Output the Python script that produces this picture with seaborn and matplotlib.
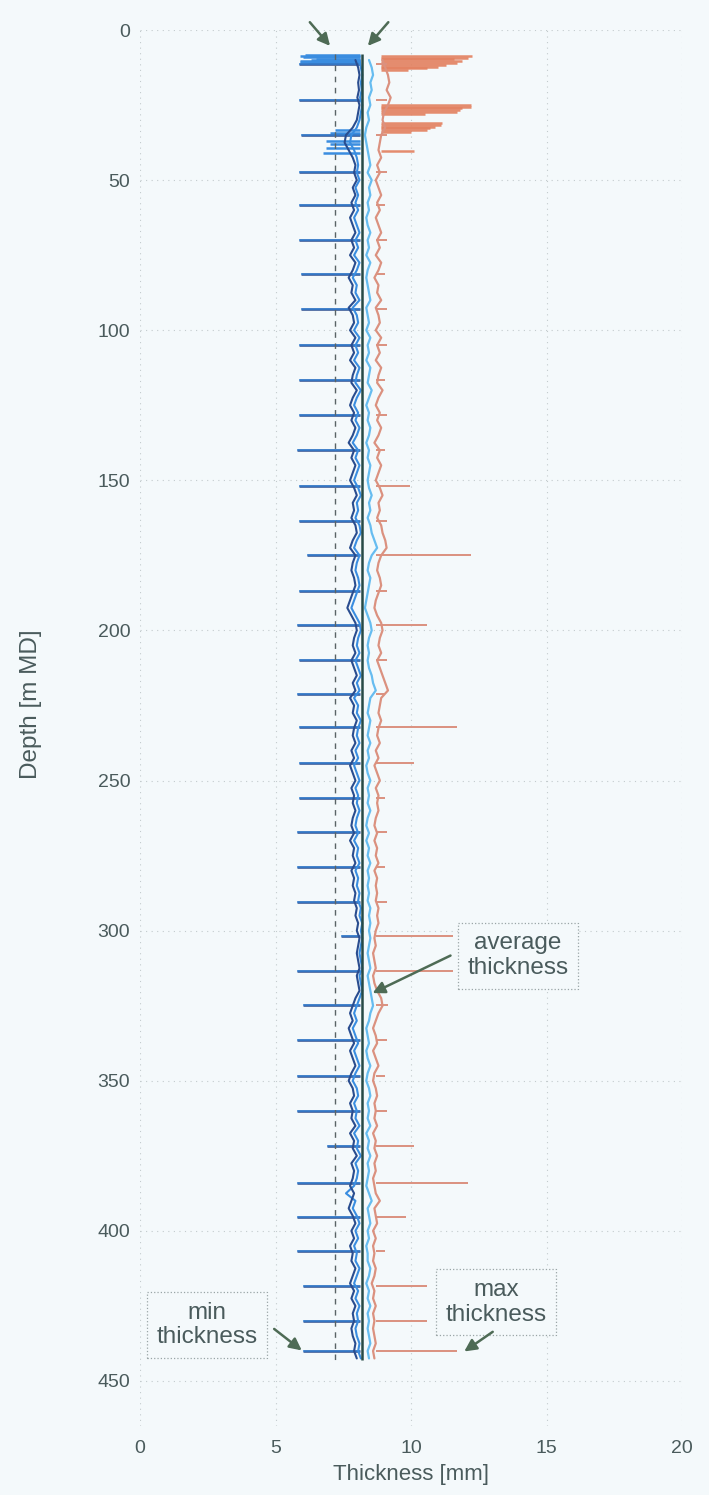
import numpy as np
import matplotlib
matplotlib.use("Agg")
import matplotlib.pyplot as plt
import seaborn as sns

# logging depth of the thickness samples (m MD), one every 2.5 m
depth = np.arange(10.0, 443.0, 2.5)

min_dark = [7.95, 8.05, 8.10, 8.05, 8.08, 8.02, 8.10, 8.05, 8.00, 7.85,
            7.60, 7.55, 7.70, 7.85, 7.95, 7.90, 8.00, 7.85, 7.95, 7.80,
            7.90, 7.75, 7.85, 7.95, 7.80, 7.90, 7.75, 7.95, 7.85, 7.70,
            7.85, 7.80, 7.95, 7.70, 7.85, 7.90, 7.75, 7.95, 7.80, 7.90,
            7.75, 7.95, 7.85, 7.80, 8.00, 7.85, 7.75, 7.90, 7.80, 7.95,
            7.85, 7.70, 7.90, 7.80, 7.95, 7.85, 7.75, 7.90, 8.00, 7.85,
            7.90, 7.80, 7.95, 8.00, 7.85, 7.75, 7.95, 7.85, 7.80, 7.90,
            7.95, 7.85, 7.75, 7.65, 7.80, 7.95, 8.00, 7.90, 7.85, 7.95,
            7.80, 7.90, 8.00, 7.85, 7.95, 7.75, 7.90, 7.85, 8.00, 7.90,
            7.85, 7.95, 7.80, 7.90, 7.75, 7.85, 7.95, 7.80, 7.90, 7.85,
            7.95, 7.85, 7.80, 7.90, 7.75, 7.90, 7.85, 7.95, 7.80, 7.90,
            7.85, 7.95, 7.90, 8.00, 7.95, 8.05, 8.00, 8.10, 8.05, 8.00,
            8.05, 8.10, 8.00, 8.05, 8.10, 7.95, 7.85, 7.75, 7.85, 7.70,
            7.80, 7.90, 7.75, 7.85, 7.95, 7.80, 7.70, 7.85, 7.90, 7.75,
            7.85, 7.80, 7.95, 7.75, 7.90, 7.85, 8.00, 7.80, 7.90, 7.85,
            7.75, 7.90, 7.80, 7.70, 7.85, 7.95, 7.80, 7.90, 7.75, 7.85,
            7.80, 7.95, 7.85, 7.75, 7.90, 7.80, 7.95, 7.85, 7.90, 7.80,
            7.85, 7.95, 7.90, 8.00]

min_blue = [8.10, 8.15, 8.20, 8.15, 8.18, 8.12, 8.20, 8.15, 8.10, 8.00,
            7.80, 7.75, 7.90, 8.00, 8.05, 8.00, 8.10, 7.95, 8.05, 7.95,
            8.05, 7.90, 8.00, 8.10, 7.95, 8.05, 7.90, 8.10, 8.00, 7.85,
            8.00, 7.95, 8.10, 7.85, 8.00, 8.05, 7.90, 8.10, 7.95, 8.05,
            7.90, 8.10, 8.00, 7.95, 8.15, 8.00, 7.90, 8.05, 7.95, 8.10,
            8.00, 7.85, 8.05, 7.95, 8.10, 8.00, 7.90, 8.05, 8.15, 8.00,
            8.05, 7.95, 8.10, 8.15, 8.00, 7.90, 8.10, 8.00, 7.95, 8.05,
            8.10, 8.00, 7.90, 7.80, 7.95, 8.10, 8.15, 8.05, 8.00, 8.10,
            7.95, 8.05, 8.15, 8.00, 8.10, 7.90, 8.05, 8.00, 8.15, 8.05,
            8.00, 8.10, 7.95, 8.05, 7.90, 8.00, 8.10, 7.95, 8.05, 8.00,
            8.10, 8.00, 7.95, 8.05, 7.90, 8.05, 8.00, 8.10, 7.95, 8.05,
            8.00, 8.10, 8.05, 8.15, 8.10, 8.20, 8.15, 8.20, 8.15, 8.10,
            8.15, 8.20, 8.10, 8.15, 8.20, 8.10, 8.00, 7.90, 8.00, 7.85,
            7.95, 8.05, 7.90, 8.00, 8.10, 7.95, 7.85, 8.00, 8.05, 7.90,
            8.00, 7.95, 8.10, 7.90, 8.05, 8.00, 8.15, 7.95, 8.05, 8.00,
            7.90, 7.60, 7.95, 7.85, 8.00, 8.10, 7.95, 8.05, 7.90, 8.00,
            7.95, 8.10, 8.00, 7.90, 8.05, 7.95, 8.10, 8.00, 8.05, 7.95,
            8.00, 8.10, 8.05, 8.15]

avg_thk = [8.45, 8.55, 8.60, 8.50, 8.55, 8.45, 8.50, 8.40, 8.45, 8.35,
           8.30, 8.35, 8.40, 8.45, 8.50, 8.40, 8.55, 8.45, 8.50, 8.40,
           8.45, 8.35, 8.40, 8.50, 8.40, 8.45, 8.35, 8.50, 8.40, 8.35,
           8.40, 8.45, 8.50, 8.35, 8.40, 8.45, 8.35, 8.50, 8.40, 8.45,
           8.35, 8.50, 8.45, 8.40, 8.55, 8.45, 8.35, 8.45, 8.40, 8.50,
           8.45, 8.35, 8.45, 8.40, 8.50, 8.45, 8.40, 8.45, 8.55, 8.45,
           8.50, 8.40, 8.50, 8.55, 8.65, 8.75, 8.55, 8.45, 8.40, 8.50,
           8.45, 8.40, 8.35, 8.30, 8.40, 8.50, 8.55, 8.45, 8.40, 8.45,
           8.40, 8.45, 8.55, 8.60, 8.70, 8.50, 8.45, 8.40, 8.50, 8.45,
           8.40, 8.50, 8.40, 8.45, 8.35, 8.40, 8.50, 8.40, 8.45, 8.40,
           8.50, 8.40, 8.35, 8.45, 8.35, 8.45, 8.40, 8.50, 8.40, 8.45,
           8.40, 8.45, 8.40, 8.50, 8.45, 8.50, 8.45, 8.50, 8.45, 8.40,
           8.45, 8.50, 8.40, 8.45, 8.50, 8.55, 8.60, 8.50, 8.45, 8.35,
           8.40, 8.45, 8.35, 8.40, 8.50, 8.40, 8.35, 8.45, 8.50, 8.40,
           8.45, 8.40, 8.50, 8.35, 8.45, 8.40, 8.50, 8.40, 8.45, 8.40,
           8.35, 8.45, 8.55, 8.40, 8.45, 8.50, 8.40, 8.45, 8.35, 8.40,
           8.40, 8.50, 8.45, 8.35, 8.45, 8.40, 8.50, 8.40, 8.45, 8.40,
           8.45, 8.50, 8.40, 8.45]

max_thk = [8.95, 9.05, 9.15, 9.20, 9.10, 9.25, 9.15, 9.00, 8.95, 9.05,
           8.90, 8.85, 8.80, 8.90, 8.75, 8.85, 8.70, 8.80, 8.90, 8.75,
           8.85, 8.70, 8.80, 8.90, 8.75, 8.85, 8.70, 8.90, 8.80, 8.65,
           8.80, 8.75, 8.90, 8.70, 8.80, 8.85, 8.70, 8.90, 8.75, 8.85,
           8.70, 8.90, 8.80, 8.75, 8.95, 8.80, 8.70, 8.85, 8.75, 8.90,
           8.80, 8.65, 8.85, 8.75, 8.90, 8.80, 8.70, 8.85, 8.95, 8.80,
           8.85, 8.75, 8.90, 8.95, 9.05, 9.10, 8.90, 8.80, 8.75, 8.85,
           8.90, 8.80, 8.70, 8.65, 8.75, 8.90, 8.95, 8.85, 8.80, 8.90,
           8.75, 8.85, 8.95, 9.05, 9.15, 8.90, 8.85, 8.80, 8.90, 8.80,
           8.75, 8.85, 8.70, 8.80, 8.65, 8.75, 8.85, 8.70, 8.80, 8.75,
           8.80, 8.70, 8.65, 8.75, 8.65, 8.75, 8.70, 8.80, 8.65, 8.75,
           8.70, 8.75, 8.70, 8.80, 8.75, 8.80, 8.70, 8.65, 8.70, 8.60,
           8.65, 8.70, 8.60, 8.65, 8.75, 8.90, 8.95, 8.80, 8.70, 8.60,
           8.70, 8.75, 8.60, 8.70, 8.80, 8.65, 8.60, 8.70, 8.75, 8.65,
           8.70, 8.65, 8.75, 8.60, 8.70, 8.65, 8.75, 8.65, 8.70, 8.60,
           8.65, 8.70, 8.85, 8.65, 8.70, 8.75, 8.60, 8.70, 8.60, 8.65,
           8.60, 8.70, 8.65, 8.55, 8.65, 8.60, 8.70, 8.60, 8.65, 8.60,
           8.65, 8.70, 8.60, 8.65]

# casing joints: depth, min thickness reading, max thickness reading
joint_depth = [11.3, 23.2, 35.1, 47.2, 58.3, 69.8, 81.3, 93.0, 104.9, 116.5,
               128.1, 140.0, 151.9, 163.5, 174.8, 186.7, 198.3, 209.9, 221.1, 232.1,
               244.1, 255.8, 267.0, 278.8, 290.3, 301.8, 313.5, 324.9, 336.5, 348.3,
               360.0, 371.8, 383.9, 395.3, 406.6, 418.4, 430.1, 440.0]
joint_min = [5.85, 5.85, 5.95, 5.85, 5.85, 5.85, 5.95, 5.95, 5.85, 5.85,
             5.85, 5.80, 5.85, 5.85, 6.15, 5.85, 5.80, 5.85, 5.80, 5.85,
             5.85, 5.85, 5.80, 5.80, 5.80, 7.40, 5.80, 6.00, 5.80, 5.80,
             5.80, 6.90, 5.80, 5.80, 5.80, 6.00, 6.00, 6.00]
joint_max = [9.10, 9.10, 9.10, 9.10, 9.05, 9.10, 9.05, 9.10, 9.10, 9.05,
             9.10, 9.05, 9.96, 9.10, 12.20, 9.10, 10.60, 9.10, 9.05, 11.70,
             10.10, 9.05, 9.10, 9.05, 9.10, 11.55, 11.55, 9.15, 9.10, 9.05,
             9.10, 10.10, 12.10, 9.80, 9.05, 10.60, 10.60, 11.70]

# noisy readings near the top of the string
top_min_depth = [8.3, 8.7, 9.1, 9.5, 9.9, 10.3, 10.7, 11.1,
                 33.2, 34.3, 36.9, 38.0, 39.3, 41.0]
top_min_value = [6.10, 5.90, 6.00, 6.50, 6.30, 5.90, 5.90, 6.20,
                 7.20, 7.00, 6.85, 7.00, 6.85, 6.75]
top_max_depth = [8.6, 9.2, 9.8, 10.4, 11.0, 11.6, 12.2, 12.8, 13.4,
                 24.9, 25.5, 26.1, 26.7, 27.3, 27.9,
                 31.0, 31.6, 32.2, 32.8, 33.4, 34.0, 40.4]
top_max_value = [12.25, 12.10, 11.60, 11.90, 11.70, 11.30, 11.00, 10.60, 9.90,
                 12.20, 12.20, 11.90, 11.80, 11.70, 10.50,
                 11.15, 11.10, 10.90, 10.70, 10.60, 10.00, 10.10]

nominal_thk = 8.2
limit_thk = 7.2

bg = "#f4f9fb"
txt = "#4a5b5c"
c_dark = "#2a4d8f"
c_blue = "#3a8de0"
c_avg = "#66bcf0"
c_max = "#db917f"
c_max_top = "#e3805f"
c_arrow = "#4e6b55"

sns.set_theme(style="white")
plt.rcParams["font.family"] = ["Liberation Sans", "DejaVu Sans"]

fig = plt.figure(figsize=(7.09, 14.95), dpi=100, facecolor=bg)
ax = fig.add_axes([140 / 709, 1 - 1426 / 1495, 542 / 709, 1396 / 1495])
ax.set_facecolor(bg)

# max thickness
ax.hlines(top_max_depth, 8.9, top_max_value, color=c_max_top, lw=1.8, alpha=0.9)
ax.hlines(joint_depth, 8.7, joint_max, color=c_max, lw=1.4)
sns.lineplot(x=max_thk, y=depth, orient="y", estimator=None, color=c_max, lw=1.6, ax=ax)

# average thickness
sns.lineplot(x=avg_thk, y=depth, orient="y", estimator=None, color=c_avg, lw=1.6, ax=ax)

# min thickness (two passes)
ax.hlines(top_min_depth, top_min_value, 8.1, color=c_blue, lw=1.8)
ax.hlines(joint_depth, joint_min, 8.1, color=c_dark, lw=1.8)
ax.hlines(joint_depth, joint_min, 8.1, color=c_blue, lw=1.3, alpha=0.7)
sns.lineplot(x=min_blue, y=depth, orient="y", estimator=None, color=c_blue, lw=1.5, ax=ax)
sns.lineplot(x=min_dark, y=depth, orient="y", estimator=None, color=c_dark, lw=1.5, ax=ax)

# nominal and limit thickness
ax.vlines(nominal_thk, 8, 443, color="#274a46", lw=1.8)
ax.vlines(limit_thk, 8, 443, color="#5a6466", lw=1.0, linestyles=(0, (4, 4)))

ax.set_xlim(0, 20)
ax.set_ylim(465, 0)
ax.set_xticks([0, 5, 10, 15, 20])
ax.set_yticks(np.arange(0, 451, 50))
ax.grid(True, color="#c3cbcd", lw=0.8, linestyle=(0, (1, 4)))
for s in ax.spines.values():
    s.set_visible(False)
ax.tick_params(axis="x", length=0, pad=10, labelsize=14, colors=txt)
ax.tick_params(axis="y", length=0, pad=7, labelsize=14, colors=txt)
ax.set_xlabel("Thickness [mm]", fontsize=16, color=txt, labelpad=5)
ax.set_ylabel("Depth [m MD]", fontsize=17.5, color=txt)
ax.yaxis.set_label_coords(-0.18, 0.517)

# annotations
box = dict(boxstyle="square,pad=0.4", fc=bg, ec="#9aa5a6", lw=0.9, ls=":")
ax.text(13.95, 308.3, "average\nthickness", ha="center", va="center", fontsize=17.5,
        color=txt, linespacing=1.15, bbox=box)
ax.text(2.47, 431.4, "min\nthickness", ha="center", va="center", fontsize=17.5,
        color=txt, linespacing=1.15, bbox=box)
ax.text(13.14, 423.8, "max\nthickness", ha="center", va="center", fontsize=17.5,
        color=txt, linespacing=1.15, bbox=box)

aprops = dict(arrowstyle="-|>", color=c_arrow, lw=1.8, mutation_scale=18)
arrows = [((8.49, 321.2), (11.55, 307.9)),
          ((6.05, 440.4), (4.87, 432.1)),
          ((11.88, 440.7), (13.10, 433.1)),
          ((7.08, 6.0), (6.20, -3.3)),
          ((8.34, 6.0), (9.23, -3.3))]
for tip, tail in arrows:
    ax.annotate("", xy=tip, xytext=tail, arrowprops=aprops, annotation_clip=False)

fig.savefig("out.png", dpi=100, facecolor=bg)
